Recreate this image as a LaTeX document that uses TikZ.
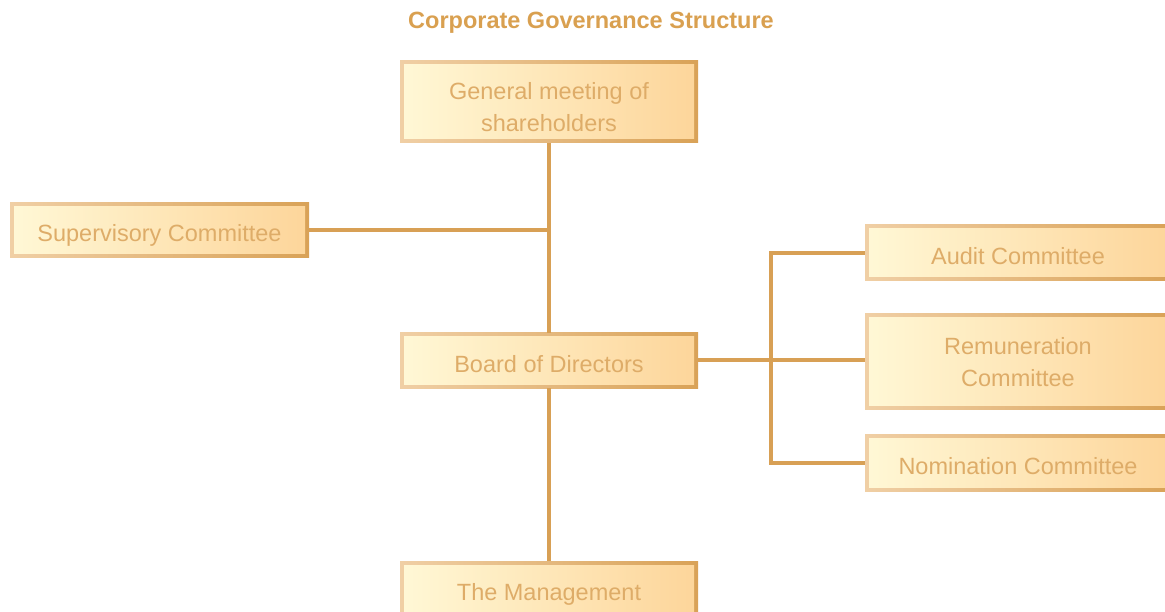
\documentclass[tikz,border=0pt]{standalone}
\usepackage{fontspec}
\setmainfont{Liberation Sans}
\definecolor{bordL}{HTML}{F0CFA5}
\definecolor{bordR}{HTML}{D9A257}
\definecolor{fillL}{HTML}{FFF8D6}
\definecolor{fillR}{HTML}{FDD59A}
\definecolor{txt}{HTML}{DEAC68}
\definecolor{ln}{HTML}{D8A055}
\definecolor{ttl}{HTML}{D9A050}
\tikzset{
  orgbox/.style={rectangle, inner sep=0pt, align=center, text=txt,
    font=\fontsize{23.5}{32}\selectfont, text depth=0pt,
    execute at begin node={\rule{0pt}{23pt}},
    left color=bordL, right color=bordR, shading angle=90,
    path picture={
      \shade[left color=fillL, right color=fillR]
        ([shift={(4pt,4pt)}]path picture bounding box.south west) rectangle
        ([shift={(-4pt,-4pt)}]path picture bounding box.north east);
    }},
  twoline/.style={inner sep=0pt, align=center, text=txt,
    font=\fontsize{23.5}{32}\selectfont},
  conn/.style={draw=ln, line width=4pt}
}
\begin{document}
\begin{tikzpicture}
\useasboundingbox (0,0) rectangle (1165pt,-612pt);
\clip (0,0) rectangle (1165pt,-612pt);
\node[font=\bfseries\fontsize{23.5}{28}\selectfont, text=ttl] (title) at (591pt,-23pt) {Corporate Governance Structure};
\node[orgbox, minimum width=298pt, minimum height=82pt,
  label={[twoline, yshift=-5pt]center:General meeting of\\shareholders}] (gm) at (549pt,-102pt) {};
\node[orgbox, minimum width=299pt, minimum height=55pt] (sup) at (159.5pt,-230.5pt) {Supervisory Committee};
\node[orgbox, minimum width=298pt, minimum height=55pt] (bod) at (549pt,-360.5pt) {Board of Directors};
\node[orgbox, minimum width=298pt, minimum height=55pt] (mgt) at (549pt,-588.5pt) {The Management};
\node[orgbox, minimum width=306pt, minimum height=56pt] (aud) at (1018pt,-253pt) {Audit Committee};
\node[orgbox, minimum width=306pt, minimum height=95pt,
  label={[twoline, yshift=-1pt]center:Remuneration\\Committee}] (rem) at (1018pt,-361.5pt) {};
\node[orgbox, minimum width=306pt, minimum height=57pt] (nom) at (1018pt,-462.5pt) {Nomination Committee};
\coordinate (br) at (771pt,-360pt);
\draw[conn] (gm.south) -- (bod.north);
\draw[conn] (bod.south) -- (mgt.north);
\draw[conn] (sup.east) -- (sup.east -| bod.north);
\draw[conn] (bod.east) -- (bod.east -| rem.west);
\draw[conn] (aud.west) -- (aud.west -| br) -- (nom.west -| br) -- (nom.west);
\end{tikzpicture}
\end{document}
